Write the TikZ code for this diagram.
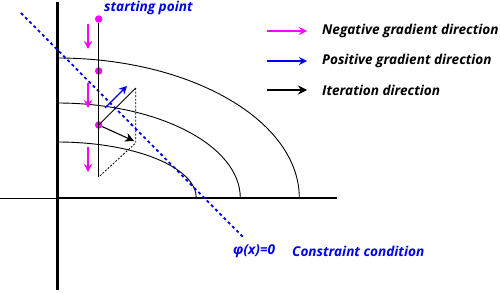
\documentclass[tikz,border=0pt]{standalone}
\usepackage{fontspec}
\setmainfont{Open Sans}
\usepackage{xcolor}
\usetikzlibrary{arrows.meta}

\definecolor{negcol}{RGB}{255,0,255}
\definecolor{poscol}{RGB}{0,0,235}

\tikzset{
  lbl/.style={anchor=west, inner sep=0pt, font=\fontsize{13.6}{15}\selectfont\bfseries\itshape},
  dot/.style={circle, fill=negcol, inner sep=0pt, minimum size=7.5pt},
  negarrow/.style={-{Stealth[length=8pt,width=8pt]}, negcol, line width=1.3pt},
  posarrow/.style={-{Stealth[length=8pt,width=8pt]}, poscol, line width=1.3pt},
  iterarrow/.style={-{Stealth[length=9pt,width=9pt]}, black, line width=1.1pt},
  contour/.style={line width=0.9pt}
}

\begin{document}
\begin{tikzpicture}[x=1pt, y=-1pt, line cap=butt, line join=round]
\useasboundingbox (0,0) rectangle (500,292);

\def\ox{57.3}
\def\oy{198}

% axes
\draw[line width=1pt] (0,\oy) -- (\ox,\oy);
\draw[line width=2.6pt] (\ox,\oy) -- (337,\oy);
\draw[line width=3pt] (\ox,2) -- (\ox,290);

% contours
\draw[contour] (\ox,58) arc[start angle=270, end angle=360, x radius=242, y radius=140];
\draw[contour] (\ox,103) arc[start angle=270, end angle=360, x radius=183, y radius=95];
\draw[contour] (\ox,142) arc[start angle=270, end angle=360, x radius=139, y radius=56];

% constraint
\coordinate (c1) at (21,13);
\coordinate (c2) at (243,237);
\draw[poscol, line width=1.8pt, dash pattern=on 3pt off 3pt] (c1) -- (c2);

% iteration path
\node[dot] (p1) at (98.7,19) {};
\node[dot] (p2) at (98.7,71) {};
\node[dot] (p3) at (98.7,125) {};
\coordinate (pend) at (98.7,177);
\coordinate (ttop) at (135.7,88);
\coordinate (tbot) at (135.7,143);
\draw[line width=0.9pt] (p1) -- (pend);
\draw[line width=0.9pt] (p3.center) -- (ttop);
\draw[line width=0.8pt, dash pattern=on 2pt off 1.5pt] (ttop) -- (tbot) -- (pend);

\draw[iterarrow] (p3) -- (134,141);
\draw[posarrow] (105,108) -- (127,86);

\draw[negarrow] (88,24) -- (88,49);
\draw[negarrow] (88,83) -- (88,108);
\draw[negarrow] (88,147) -- (88,172);

\node[lbl, text=poscol] (start) at (104,8) {starting point};

% legend
\draw[negarrow] (267,31) -- (307,31);
\draw[posarrow] (267,61) -- (307,61);
\draw[iterarrow] (267,90) -- (307,90);
\node[lbl] (lneg) at (322,31) {Negative gradient direction};
\node[lbl] (lpos) at (322,61) {Positive gradient direction};
\node[lbl] (liter) at (322,90) {Iteration direction};

\node[lbl, text=poscol] (phi) at (233,251) {φ(x)=0};
\node[lbl, text=poscol] (cons) at (292,251) {Constraint condition};

\end{tikzpicture}
\end{document}
